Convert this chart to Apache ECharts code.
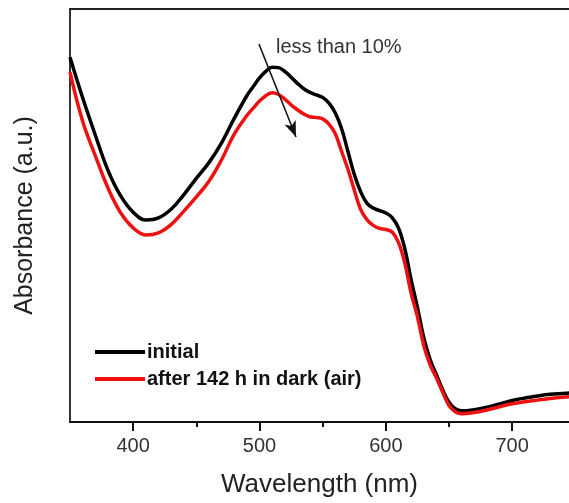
<!DOCTYPE html>
<html>
<head>
<meta charset="utf-8">
<script src="https://cdn.jsdelivr.net/npm/echarts@6/dist/echarts.min.js"></script>
<style>
  html, body { margin: 0; padding: 0; background: #fff; }
  #chart { width: 569px; height: 503px; }
</style>
</head>
<body>
<div id="chart"></div>
<script>
// wavelength (nm)
const wavelength = [350, 360, 370, 380, 390, 400, 410, 420, 430, 440, 450, 460, 470, 480, 490,
  495, 500, 505, 510, 515, 520, 525, 530, 535, 540, 545, 550, 555, 560, 565, 570, 575, 580, 585,
  590, 595, 600, 605, 610, 615, 620, 625, 630, 635, 640, 645, 650, 655, 660, 670, 680, 690, 700,
  710, 720, 730, 740, 750];
// absorbance (a.u.) - initial
const initial = [0.883, 0.785, 0.695, 0.610, 0.548, 0.508, 0.489, 0.494, 0.515, 0.550, 0.590, 0.628,
  0.676, 0.735, 0.790, 0.812, 0.833, 0.849, 0.859, 0.858, 0.849, 0.835, 0.820, 0.807, 0.798, 0.792,
  0.786, 0.772, 0.748, 0.710, 0.655, 0.600, 0.558, 0.530, 0.518, 0.512, 0.506, 0.495, 0.470, 0.420,
  0.345, 0.278, 0.205, 0.152, 0.115, 0.078, 0.048, 0.032, 0.027, 0.030, 0.036, 0.044, 0.052, 0.058,
  0.063, 0.067, 0.069, 0.071];
// absorbance (a.u.) - after 142 h in dark (air)
const aged = [0.847, 0.728, 0.645, 0.567, 0.507, 0.470, 0.453, 0.458, 0.478, 0.510, 0.545, 0.583,
  0.635, 0.697, 0.742, 0.760, 0.777, 0.790, 0.797, 0.793, 0.782, 0.768, 0.756, 0.746, 0.739, 0.737,
  0.734, 0.721, 0.698, 0.655, 0.612, 0.562, 0.515, 0.490, 0.476, 0.469, 0.466, 0.460, 0.435, 0.385,
  0.312, 0.255, 0.186, 0.139, 0.107, 0.072, 0.040, 0.025, 0.020, 0.023, 0.029, 0.037, 0.044, 0.049,
  0.053, 0.057, 0.060, 0.062];

const seriesNames = ['initial', 'after 142 h in dark (air)'];
const majorTicks = [400, 500, 600, 700];
const minorTicks = [450, 550, 650];
// arrow annotation, [nm, a.u.]
const arrowFrom = [499.6, 0.915];
const arrowTo = [528.9, 0.69];

const font = '"Liberation Sans", Arial, sans-serif';
const chart = echarts.init(document.getElementById('chart'));

const pairs = ys => wavelength.map((x, i) => [x, ys[i]]);
const xRange = { type: 'value', min: 350, max: 745, splitLine: { show: false } };

chart.setOption({
  animation: false,
  backgroundColor: '#fff',
  grid: { left: 70, top: 9, bottom: 80, right: 0, containLabel: false },
  legend: {
    orient: 'vertical',
    left: 95, top: 342, padding: 0,
    itemWidth: 50, itemHeight: 4, itemGap: 7,
    icon: 'rect',
    textStyle: { fontFamily: font, fontSize: 20, fontWeight: 'bold', color: '#111', padding: [0, 0, 0, -3] },
    data: seriesNames
  },
  xAxis: [Object.assign({}, xRange, {
    name: 'Wavelength (nm)', nameLocation: 'middle', nameGap: 50,
    nameTextStyle: { fontFamily: font, fontSize: 26, color: '#222' },
    axisLine: { show: true, onZero: false, lineStyle: { color: '#111', width: 2 } },
    axisTick: { show: true, customValues: majorTicks, length: 9, lineStyle: { color: '#111', width: 2 } },
    axisLabel: { customValues: majorTicks, margin: 14, fontFamily: font, fontSize: 20, color: '#333' }
  }), Object.assign({}, xRange, {
    position: 'bottom',
    axisLine: { show: false },
    axisTick: { show: true, customValues: minorTicks, length: 5, lineStyle: { color: '#111', width: 2 } },
    axisLabel: { show: false }
  }), Object.assign({}, xRange, {
    position: 'top',
    axisLine: { show: true, lineStyle: { color: '#222', width: 2 } },
    axisTick: { show: false },
    axisLabel: { show: false }
  })],
  yAxis: {
    type: 'value', min: 0, max: 1,
    name: 'Absorbance (a.u.)', nameLocation: 'middle', nameGap: 32,
    nameTextStyle: { fontFamily: font, fontSize: 25, color: '#222' },
    axisLine: { show: true, lineStyle: { color: '#333', width: 2 } },
    axisTick: { show: false },
    axisLabel: { show: false },
    splitLine: { show: false }
  },
  graphic: [{
    type: 'text', x: 276, y: 47,
    style: { text: 'less than 10%', font: '20px ' + font, fill: '#333', verticalAlign: 'middle' }
  }],
  series: [{
    name: seriesNames[0], type: 'line', data: pairs(initial),
    smooth: 0.4, showSymbol: false, symbol: 'none',
    color: '#000', lineStyle: { color: '#000', width: 3.5 },
    markLine: {
      silent: true, symbol: ['none', 'arrow'], symbolSize: [9, 16],
      label: { show: false },
      lineStyle: { color: '#111', width: 1.5, type: 'solid' },
      data: [[{ coord: arrowFrom }, { coord: arrowTo }]]
    }
  }, {
    name: seriesNames[1], type: 'line', data: pairs(aged),
    smooth: 0.4, showSymbol: false, symbol: 'none',
    color: '#ee1111', lineStyle: { color: '#ee1111', width: 3.5 }
  }]
});
</script>
</body>
</html>
